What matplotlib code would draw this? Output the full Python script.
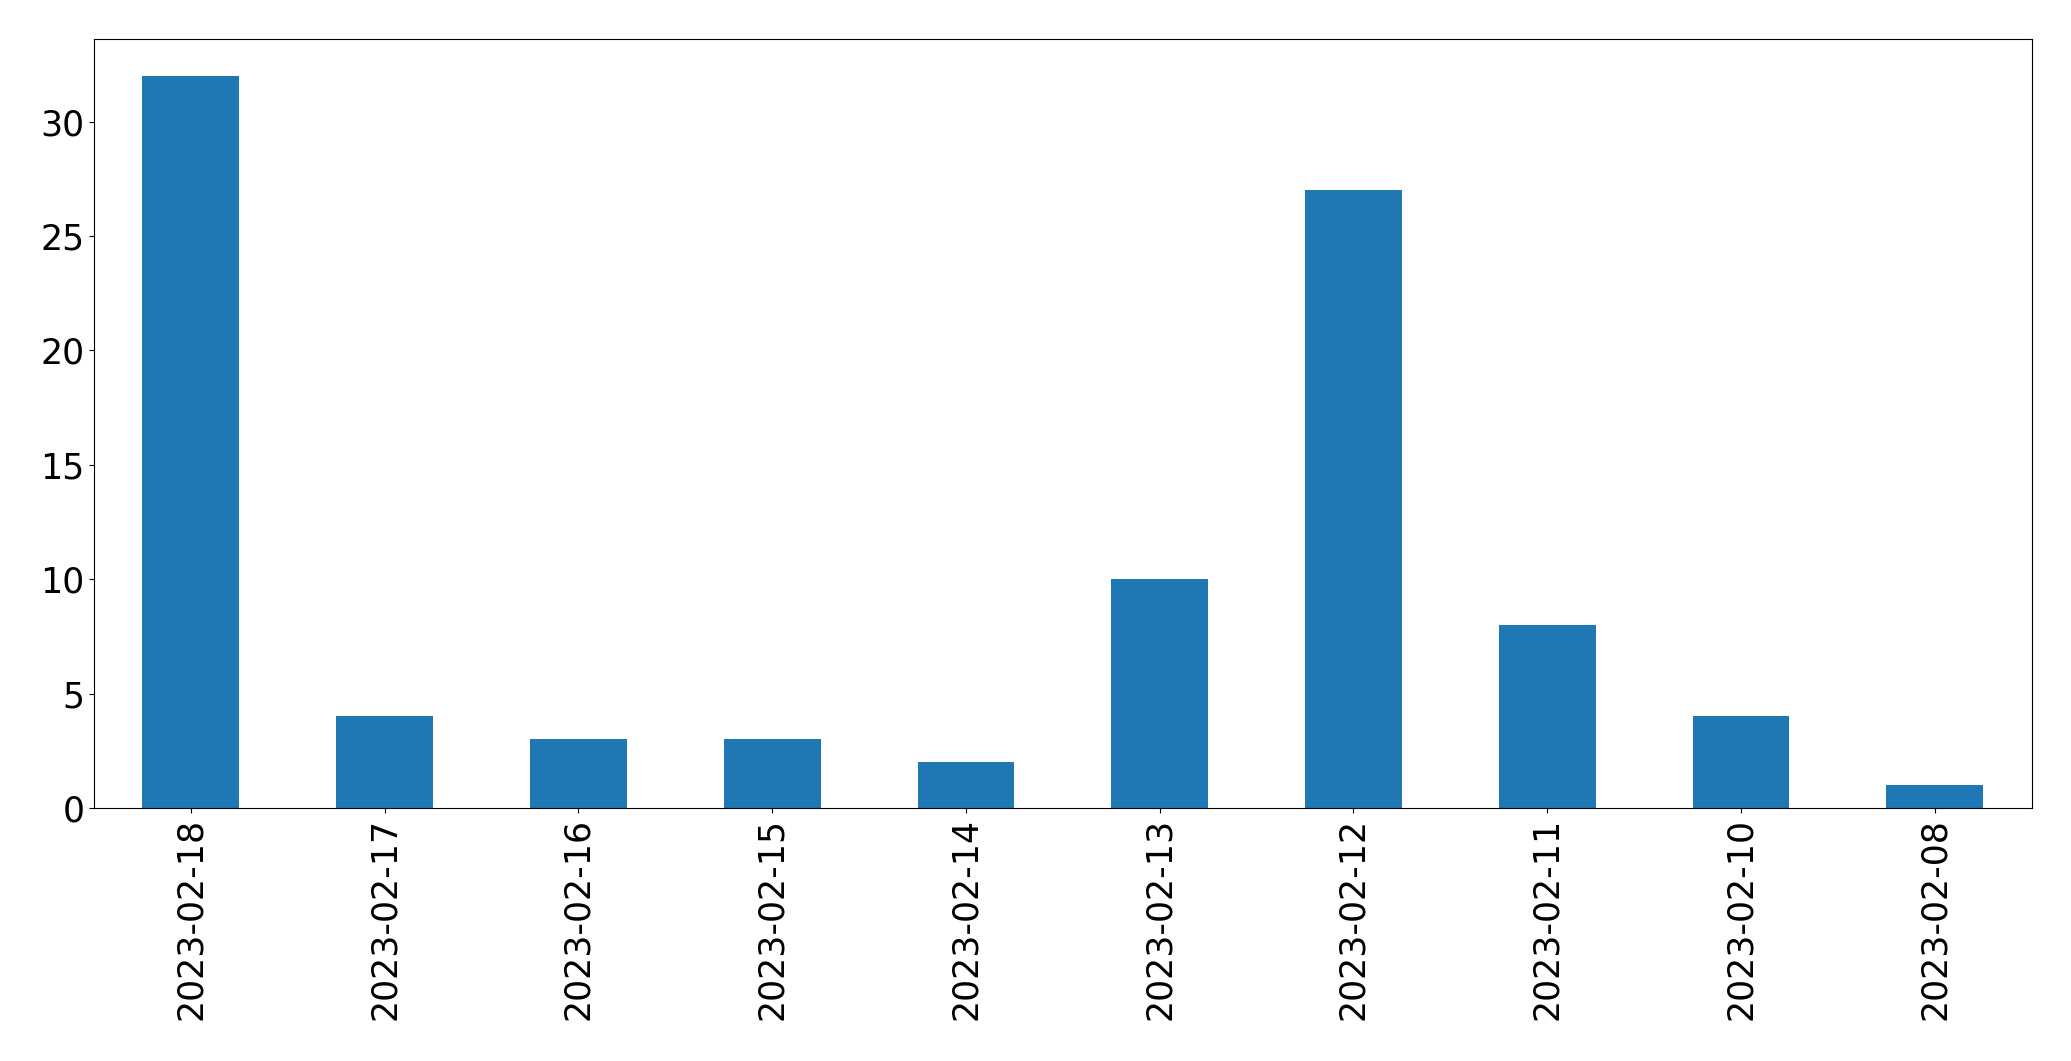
import matplotlib
matplotlib.use('Agg')
import matplotlib.pyplot as plt
import pandas as pd

dates = ['2023-02-18', '2023-02-17', '2023-02-16', '2023-02-15', '2023-02-14',
         '2023-02-13', '2023-02-12', '2023-02-11', '2023-02-10', '2023-02-08']
counts = [32, 4, 3, 3, 2, 10, 27, 8, 4, 1]

plt.rcParams['font.size'] = 25

s = pd.Series(counts, index=dates)

fig, ax = plt.subplots(figsize=(20.71, 10.61), dpi=100)
s.plot(kind='bar', ax=ax, color='#1f77b4')
ax.tick_params(axis='x', rotation=90)
fig.subplots_adjust(left=0.0454, right=0.981, top=0.963, bottom=0.2385)

fig.savefig('out.png', dpi=100)
